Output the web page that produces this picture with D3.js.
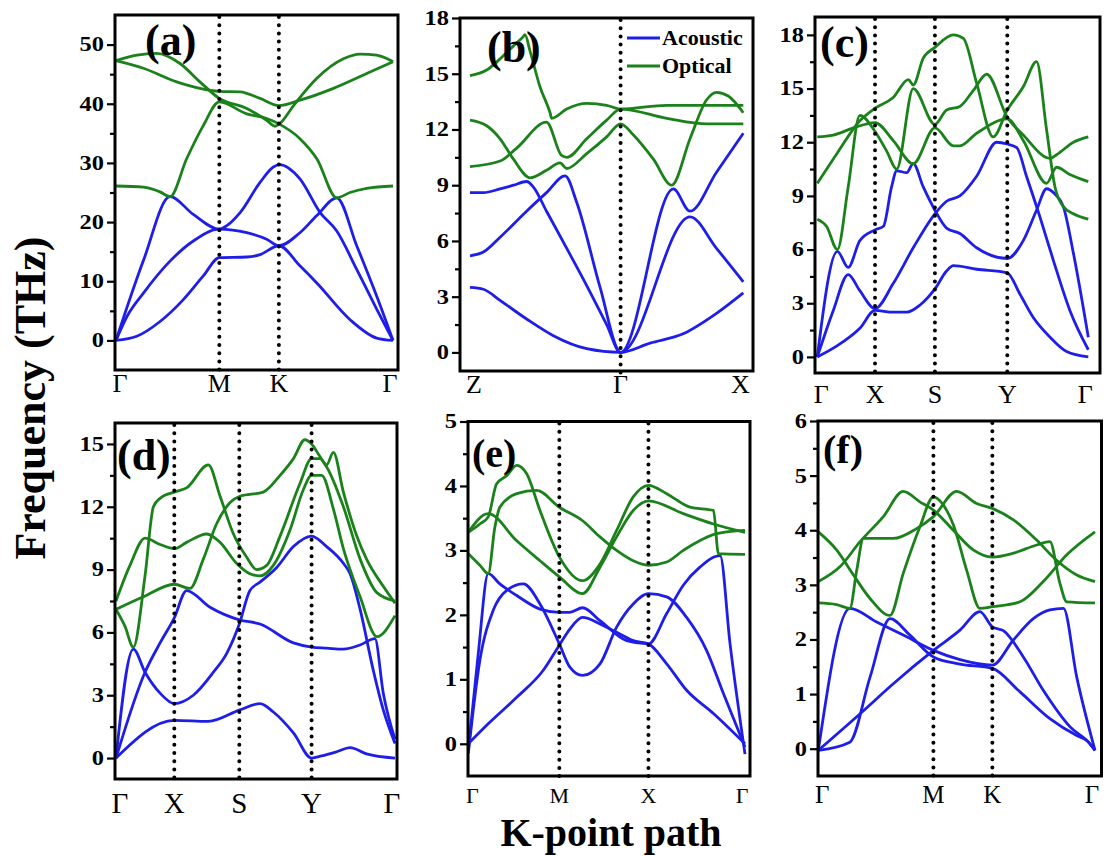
<!DOCTYPE html>
<html><head><meta charset="utf-8">
<script src="https://cdn.jsdelivr.net/npm/d3@7"></script>
<style>body{margin:0;background:#fff}svg{display:block}</style>
</head><body>
<svg id="c" width="1110" height="856"></svg>
<script>
// ---------------- DATA (k along path 0..1, frequency in THz) ----------------
const a_acoustic = [
 [[0,0],[.075,.7],[.159,3.2],[.243,6.9],[.315,10.9],[.373,14.0],[.472,14.1],[.520,14.5],[.588,16.0],[.664,12.6],[.725,9.7],[.845,3.5],[.941,.4],[1,0]],
 [[0,0],[.039,4.0],[.099,8.0],[.195,13.4],[.279,16.8],[.373,18.8],[.472,18.2],[.544,17.1],[.588,16.0],[.664,18.2],[.725,21.1],[.797,24.1],[.869,16.0],[.941,7.5],[1,0]],
 [[0,0],[.099,13.5],[.195,24.3],[.279,21.3],[.373,18.8],[.400,19.4],[.448,21.6],[.520,26.7],[.568,29.3],[.590,29.7],[.664,27.3],[.737,21.6],[.797,18.5],[.869,12.0],[.941,5.3],[1,0]]
];
const a_optical = [
 [[0,47.3],[.075,48.2],[.147,48.5],[.231,46.8],[.303,43.7],[.373,40.9],[.472,39.2],[.544,37.2],[.574,36.2],[.590,36.6],[.641,39.7],[.725,44.3],[.821,47.6],[.881,48.4],[.941,48.2],[1,47.1]],
 [[0,47.3],[.099,46.0],[.219,43.7],[.303,42.6],[.373,42.1],[.448,42.0],[.520,40.9],[.588,39.7],[.664,40.6],[.785,42.6],[.905,45.1],[1,47.1]],
 [[0,26.1],[.099,25.9],[.159,25.1],[.195,24.3],[.255,30.7],[.315,36.3],[.373,40.3],[.472,38.3],[.544,37.5],[.588,36.6],[.664,34.1],[.725,30.7],[.797,24.1],[.845,25.0],[.905,25.7],[1,26.1]]
];
const b_acoustic = [
 [[0,3.5],[.049,3.4],[.110,2.8],[.207,1.8],[.305,.9],[.427,.2],[.551,0],[.659,.5],[.780,1.0],[.902,2.1],[1,3.2]],
 [[0,5.2],[.049,5.4],[.110,6.2],[.207,7.6],[.280,8.6],[.348,9.5],[.390,8.1],[.476,3.5],[.551,0],[.744,8.8],[.805,7.6],[.902,9.7],[1,11.8]],
 [[0,8.6],[.049,8.6],[.110,8.8],[.159,9.0],[.207,9.2],[.232,8.9],[.280,7.6],[.354,5.6],[.427,3.6],[.500,1.5],[.551,0],[.805,7.3],[.902,5.6],[1,3.8]]
];
const b_optical = [
 [[0,14.9],[.061,15.2],[.110,15.8],[.159,16.5],[.195,17.0],[.201,17.1],[.220,16.2],[.256,14.3],[.293,12.9],[.299,12.6],[.354,13.1],[.427,13.4],[.500,13.3],[.551,13.1],[.720,13.3],[1,13.3]],
 [[0,12.5],[.061,12.2],[.110,11.5],[.159,10.4],[.220,9.4],[.280,9.8],[.329,10.2],[.354,9.9],[.427,10.7],[.500,11.6],[.551,12.3],[.598,11.7],[.671,10.4],[.738,9.0],[.805,11.5],[.866,13.6],[.902,14.0],[.945,13.8],[1,12.9]],
 [[0,10.0],[.110,10.3],[.171,11.0],[.280,12.4],[.335,10.6],[.354,10.5],[.427,11.5],[.500,12.5],[.551,13.1],[.720,12.6],[.866,12.3],[1,12.3]]
];
const c_acoustic = [
 [[0,0],[.071,.6],[.157,1.6],[.213,2.6],[.280,2.5],[.330,2.5],[.379,2.9],[.434,3.8],[.477,4.8],[.502,5.1],[.588,4.9],[.701,4.7],[.748,3.5],[.797,2.2],[.859,1.1],[.920,.3],[1,0]],
 [[0,0],[.059,2.6],[.114,4.6],[.157,3.7],[.213,2.7],[.280,4.1],[.354,6.1],[.434,8.0],[.477,8.7],[.526,9.0],[.588,10.1],[.662,12.0],[.701,11.9],[.736,11.7],[.772,10.1],[.822,7.8],[.871,5.4],[.932,2.6],[1,.4]],
 [[0,0],[.074,5.9],[.114,5.0],[.157,6.5],[.213,7.1],[.244,7.3],[.274,9.5],[.293,10.4],[.330,10.3],[.354,10.8],[.391,9.5],[.434,8.2],[.477,7.2],[.526,6.9],[.588,6.1],[.701,5.5],[.760,6.5],[.809,8.2],[.846,9.4],[.877,9.1],[.908,8.4],[.945,5.8],[1,1.1]]
];
const c_optical = [
 [[0,9.7],[.074,11.4],[.157,13.2],[.213,13.9],[.280,14.5],[.336,15.5],[.354,15.2],[.391,16.7],[.434,17.3],[.502,18.0],[.539,17.8],[.588,15.3],[.649,12.3],[.701,13.8],[.760,15.1],[.809,16.5],[.846,12.7],[.877,9.5],[.908,8.4],[.945,8.0],[1,7.7]],
 [[0,7.7],[.034,7.3],[.074,6.0],[.114,9.5],[.157,13.5],[.213,12.6],[.256,11.5],[.293,10.5],[.354,15.0],[.434,13.0],[.477,13.8],[.526,14.0],[.576,14.9],[.625,15.8],[.701,13.4],[.760,12.4],[.859,11.1],[.883,11.3],[.945,12.0],[1,12.3]],
 [[0,12.3],[.059,12.4],[.133,12.8],[.213,13.1],[.280,12.1],[.354,10.8],[.434,12.8],[.502,11.8],[.526,11.8],[.588,12.5],[.701,13.3],[.760,12.1],[.846,9.7],[.883,10.6],[.932,10.2],[1,9.8]]
];
const d_acoustic = [
 [[0,0],[.209,1.8],[.331,1.75],[.444,2.3],[.516,2.6],[.564,2.2],[.636,1.2],[.701,0],[.737,.1],[.791,.3],[.839,.5],[.898,.2],[1,0]],
 [[0,0],[.062,5.2],[.104,4.1],[.158,3.1],[.209,2.6],[.277,3.0],[.349,4.1],[.397,5.0],[.442,6.4],[.480,8.0],[.516,8.4],[.576,9.1],[.636,10.1],[.701,10.6],[.755,10.1],[.815,9.3],[.839,8.8],[.875,7.1],[.922,4.2],[.958,2.3],[1,.7]],
 [[0,0],[.104,4.1],[.158,5.5],[.209,6.7],[.253,8.0],[.337,7.2],[.442,6.6],[.516,6.4],[.636,5.5],[.701,5.3],[.755,5.25],[.815,5.2],[.875,5.4],[.928,5.7],[.958,3.1],[1,.9]]
];
const d_optical = [
 [[0,7.1],[.032,6.3],[.062,5.3],[.104,8.7],[.134,12.0],[.158,12.4],[.209,12.7],[.253,12.9],[.331,14.0],[.373,12.5],[.421,10.7],[.468,9.6],[.504,9.0],[.540,9.2],[.588,10.6],[.659,13.1],[.701,14.3],[.731,14.3],[.755,13.9],[.815,12.0],[.875,9.5],[.935,7.9],[1,7.5]],
 [[0,7.5],[.050,9.2],[.104,10.5],[.158,10.2],[.209,10.0],[.253,10.3],[.325,10.7],[.373,10.3],[.432,9.3],[.480,8.8],[.516,8.7],[.564,9.2],[.624,10.9],[.671,12.8],[.701,13.5],[.737,13.5],[.779,11.9],[.815,10.0],[.875,7.7],[.935,5.8],[1,6.8]],
 [[0,7.1],[.098,7.7],[.209,8.3],[.265,8.1],[.313,9.5],[.361,11.2],[.409,12.2],[.444,12.5],[.528,12.7],[.588,13.5],[.636,14.3],[.677,15.2],[.701,15.0],[.731,14.4],[.755,14.0],[.779,14.6],[.815,12.7],[.863,10.6],[.898,9.5],[.958,8.2],[1,7.4]]
];
const e_acoustic = [
 [[0,0],[.072,.31],[.175,.72],[.271,1.14],[.329,1.53],[.367,1.78],[.413,1.96],[.476,1.86],[.536,1.73],[.596,1.60],[.651,1.55],[.717,1.24],[.789,.83],[.886,.47],[1,0]],
 [[0,-.1],[.036,1.4],[.072,2.64],[.114,2.48],[.175,2.30],[.259,2.09],[.329,2.04],[.367,2.04],[.413,2.11],[.476,1.91],[.572,1.60],[.651,1.55],[.717,2.02],[.777,2.46],[.837,2.74],[.910,2.92],[.946,1.55],[1,-.16]],
 [[0,-.15],[.042,1.3],[.090,2.07],[.139,2.38],[.199,2.48],[.259,2.17],[.329,1.55],[.367,1.19],[.413,1.06],[.476,1.24],[.536,1.81],[.596,2.17],[.651,2.33],[.717,2.28],[.789,1.96],[.861,1.45],[.922,.78],[1,-.05]]
];
const e_optical = [
 [[0,3.28],[.042,3.41],[.072,3.52],[.102,4.03],[.139,4.16],[.175,4.32],[.211,4.19],[.259,3.62],[.329,2.90],[.413,2.53],[.476,2.79],[.536,3.31],[.596,3.83],[.651,4.01],[.717,3.88],[.801,3.67],[.886,3.62],[.904,2.95],[1,2.94]],
 [[0,2.95],[.042,2.77],[.072,2.64],[.096,3.36],[.114,3.67],[.175,3.88],[.247,3.93],[.329,3.67],[.413,3.46],[.476,3.21],[.536,3.00],[.596,2.84],[.651,2.77],[.717,2.82],[.777,3.00],[.898,3.26],[1,3.31]],
 [[0,3.28],[.072,3.57],[.175,3.15],[.259,2.84],[.329,2.59],[.413,2.33],[.476,2.74],[.536,3.21],[.596,3.62],[.651,3.77],[.777,3.57],[.886,3.41],[1,3.28]]
];
const f_acoustic = [
 [[0,-.03],[.114,2.57],[.211,2.32],[.307,2.08],[.416,1.80],[.512,1.63],[.629,1.53],[.705,1.99],[.777,2.38],[.837,2.54],[.886,2.57],[.934,1.31],[1,-.03]],
 [[0,-.03],[.114,.12],[.187,1.31],[.259,2.38],[.331,2.08],[.416,1.68],[.512,1.55],[.629,1.47],[.729,1.04],[.837,.55],[.934,.24],[.970,.15],[1,-.03]],
 [[0,-.03],[.151,.64],[.271,1.19],[.416,1.80],[.512,2.17],[.584,2.51],[.629,2.23],[.669,2.16],[.741,1.68],[.813,1.07],[.910,.40],[.982,.09],[1,-.03]]
];
const f_optical = [
 [[0,3.97],[.066,3.64],[.127,3.18],[.187,2.75],[.259,2.44],[.307,3.21],[.367,4.06],[.416,4.61],[.452,4.46],[.488,4.10],[.536,3.27],[.584,2.57],[.629,2.60],[.729,2.69],[.813,3.06],[.898,3.55],[1,3.97]],
 [[0,3.06],[.078,3.33],[.151,3.79],[.235,4.25],[.307,4.71],[.367,4.52],[.416,4.37],[.488,4.00],[.560,3.64],[.629,3.51],[.705,3.58],[.789,3.73],[.837,3.79],[.873,3.03],[.898,2.69],[1,2.67]],
 [[0,2.67],[.066,2.64],[.114,2.57],[.139,3.27],[.163,3.85],[.271,3.85],[.355,4.03],[.416,4.25],[.500,4.71],[.572,4.49],[.629,4.40],[.705,4.19],[.789,3.82],[.861,3.45],[.934,3.18],[1,3.06]]
];

// high-symmetry points and tick values
const a_kLabels = ["Γ","M","K","Γ"],     a_kPos = [0,.373,.588,1];
const b_kLabels = ["Z","Γ","X"],         b_kPos = [0,.551,1];
const c_kLabels = ["Γ","X","S","Y","Γ"], c_kPos = [0,.213,.434,.701,1];
const d_kLabels = ["Γ","X","S","Y","Γ"], d_kPos = [0,.209,.442,.701,1];
const e_kLabels = ["Γ","M","X","Γ"],     e_kPos = [0,.329,.651,1];
const f_kLabels = ["Γ","M","K","Γ"],     f_kPos = [0,.416,.629,1];

const a_yTicks = [0,10,20,30,40,50],      a_yMinor = [5,15,25,35,45];
const b_yTicks = [0,3,6,9,12,15,18],      b_yMinor = [1.5,4.5,7.5,10.5,13.5,16.5];
const c_yTicks = [0,3,6,9,12,15,18],      c_yMinor = [1.5,4.5,7.5,10.5,13.5,16.5];
const d_yTicks = [0,3,6,9,12,15],         d_yMinor = [1.5,4.5,7.5,10.5,13.5];
const e_yTicks = [0,1,2,3,4,5],           e_yMinor = [.5,1.5,2.5,3.5,4.5];
const f_yTicks = [0,1,2,3,4,5,6],         f_yMinor = [.5,1.5,2.5,3.5,4.5,5.5];

const legendNames = ["Acoustic","Optical"];

// ---------------- LAYOUT ----------------
const BLUE="#1e1ee8", GREEN="#1b821b";
const SERIF="'Liberation Serif','Times New Roman','DejaVu Serif',serif";
const panels = [
 {id:"a",frame:[115,398,15,370],dx:[116,393],yd:[-5,55],ac:a_acoustic,op:a_optical,kl:a_kLabels,kp:a_kPos,yt:a_yTicks,ym:a_yMinor,dots:a_kPos.slice(1,-1),tag:[145,55,44],lab:[392,26]},
 {id:"b",frame:[460,753,18,371],dx:[470,743.3],yd:[-1,18],ac:b_acoustic,op:b_optical,kl:b_kLabels,kp:b_kPos,yt:b_yTicks,ym:b_yMinor,dots:b_kPos.slice(1,-1),tag:[487,62,44],lab:[393,26]},
 {id:"c",frame:[815,1100,17,373],dx:[817.3,1088.3],yd:[-0.9,19],ac:c_acoustic,op:c_optical,kl:c_kLabels,kp:c_kPos,yt:c_yTicks,ym:c_yMinor,dots:c_kPos.slice(1,-1),tag:[820,57,44],lab:[403,26]},
 {id:"d",frame:[115,397,423,779],dx:[116,395],yd:[-1,16],ac:d_acoustic,op:d_optical,kl:d_kLabels,kp:d_kPos,yt:d_yTicks,ym:d_yMinor,dots:d_kPos.slice(1,-1),tag:[117,470,44],lab:[813,29]},
 {id:"e",frame:[468,750,421.5,776],dx:[468.3,745],yd:[-0.5,5],ac:e_acoustic,op:e_optical,kl:e_kLabels,kp:e_kPos,yt:e_yTicks,ym:e_yMinor,dots:e_kPos.slice(1,-1),tag:[472,467,40],lab:[803,22]},
 {id:"f",frame:[818,1101.5,421,776],dx:[818.3,1095],yd:[-0.5,6],ac:f_acoustic,op:f_optical,kl:f_kLabels,kp:f_kPos,yt:f_yTicks,ym:f_yMinor,dots:f_kPos.slice(1,-1),tag:[823,463,40],lab:[803,25]}
];

const svg = d3.select("#c");
const defs = svg.append("defs");
const STRETCH = 1.22;

panels.forEach(p=>{
  const [fx0,fx1,fy0,fy1] = p.frame;
  const x = d3.scaleLinear().domain([0,1]).range(p.dx);
  const y = d3.scaleLinear().domain(p.yd).range([fy1,fy0]);
  const g = svg.append("g").attr("class","panel-"+p.id);
  defs.append("clipPath").attr("id","clip-"+p.id).append("rect")
    .attr("x",fx0).attr("y",fy0).attr("width",fx1-fx0).attr("height",fy1-fy0);
  const line = d3.line().x(d=>x(d[0])).y(d=>y(d[1])).curve(d3.curveMonotoneX);
  const cg = g.append("g").attr("clip-path",`url(#clip-${p.id})`);
  cg.selectAll("path.ac").data(p.ac).join("path").attr("class","ac")
    .attr("d",line).attr("fill","none").attr("stroke",BLUE).attr("stroke-width",2.8).attr("stroke-linejoin","round");
  cg.selectAll("path.op").data(p.op).join("path").attr("class","op")
    .attr("d",line).attr("fill","none").attr("stroke",GREEN).attr("stroke-width",2.8).attr("stroke-linejoin","round");

  // dotted high-symmetry lines
  g.selectAll("line.dot").data(p.dots).join("line").attr("class","dot")
    .attr("x1",d=>x(d)).attr("x2",d=>x(d)).attr("y1",fy0+2).attr("y2",fy1+2)
    .attr("stroke","#000").attr("stroke-width",4).attr("stroke-linecap","round")
    .attr("stroke-dasharray","0 8.2");

  // frame
  g.append("rect").attr("x",fx0).attr("y",fy0).attr("width",fx1-fx0).attr("height",fy1-fy0)
    .attr("fill","none").attr("stroke","#000").attr("stroke-width",3);

  // y axis
  const minorAx = g.append("g").attr("transform",`translate(${fx0},0)`)
    .call(d3.axisLeft(y).tickValues(p.ym).tickSize(5).tickFormat(""));
  const majorAx = g.append("g").attr("transform",`translate(${fx0},0)`)
    .call(d3.axisLeft(y).tickValues(p.yt).tickSize(8).tickPadding(3).tickFormat(d3.format("d")));
  [minorAx,majorAx].forEach(ax=>{
    ax.select(".domain").remove();
    ax.selectAll("line").attr("stroke","#000").attr("stroke-width",2.2);
  });
  majorAx.selectAll("text").attr("font-family",SERIF).attr("font-weight","bold")
    .attr("font-size",20).attr("fill","#000")
    .attr("x",-11/STRETCH).attr("transform",`scale(${STRETCH},1)`);

  // k-point labels
  g.selectAll("text.kl").data(p.kl).join("text").attr("class","kl")
    .attr("x",(d,i)=>x(p.kp[i])+ (i===0?4:(i===p.kl.length-1?-3:0)))
    .attr("y",p.lab[0]).attr("text-anchor","middle")
    .attr("font-family",SERIF).attr("font-size",p.lab[1]).attr("fill","#000").text(d=>d);

  // panel tag
  g.append("text").attr("x",p.tag[0]).attr("y",p.tag[1])
    .attr("font-family",SERIF).attr("font-weight","bold").attr("font-size",p.tag[2])
    .attr("fill","#000").text(`(${p.id})`);
});

// legend in panel (b)
const lg = svg.append("g");
legendNames.forEach((name,i)=>{
  const yy = 38 + i*28;
  lg.append("line").attr("x1",627).attr("x2",660).attr("y1",yy).attr("y2",yy)
    .attr("stroke",i===0?BLUE:GREEN).attr("stroke-width",3);
  lg.append("text").attr("x",662).attr("y",yy+7).attr("font-family",SERIF)
    .attr("font-weight","bold").attr("font-size",22).attr("fill","#000").text(name);
});

// axis titles
svg.append("text").attr("transform","translate(45,398) rotate(-90)")
  .attr("text-anchor","middle").attr("font-family",SERIF).attr("font-weight","bold")
  .attr("font-size",44).attr("fill","#000").text("Frequency (THz)");
svg.append("text").attr("x",611).attr("y",846)
  .attr("text-anchor","middle").attr("font-family",SERIF).attr("font-weight","bold")
  .attr("font-size",40).attr("fill","#000").text("K-point path");
</script>
</body></html>
